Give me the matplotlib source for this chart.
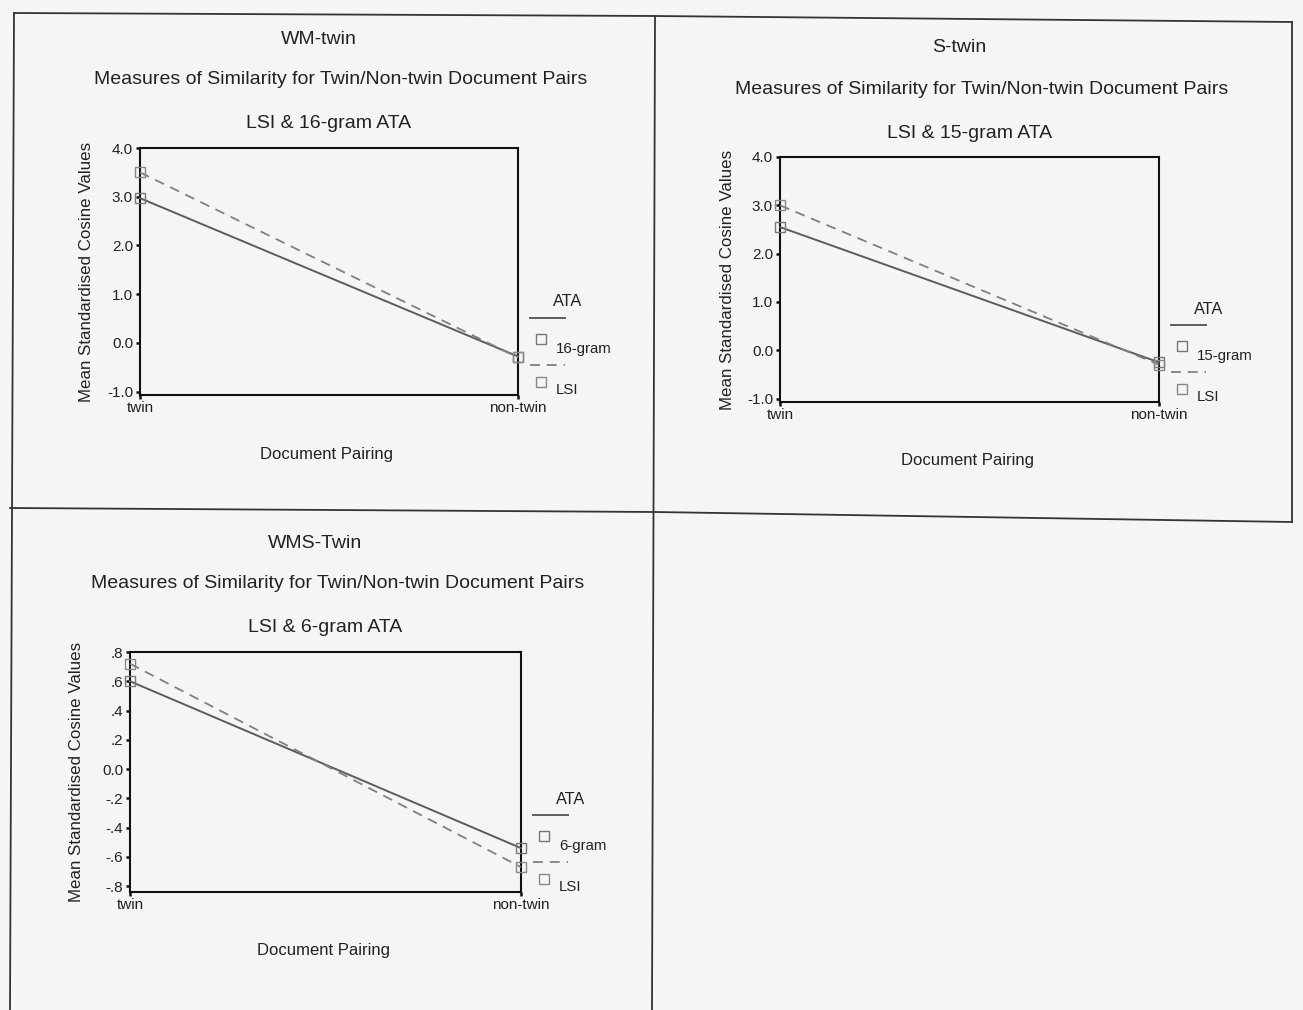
import matplotlib
matplotlib.use("Agg")
import matplotlib.pyplot as plt
from matplotlib.lines import Line2D

W, H = 1303, 1010
plt.rcParams['font.family'] = ['Liberation Sans', 'DejaVu Sans']

pairs = ["twin", "non-twin"]

# mean standardised cosine values
wm_ata = [2.97, -0.28]
wm_lsi = [3.50, -0.30]
s_ata = [2.55, -0.25]
s_lsi = [3.00, -0.30]
wms_ata = [0.60, -0.54]
wms_lsi = [0.72, -0.67]

big_ticks = [-1.0, 0.0, 1.0, 2.0, 3.0, 4.0]
big_labels = ["-1.0", "0.0", "1.0", "2.0", "3.0", "4.0"]
small_ticks = [-0.8, -0.6, -0.4, -0.2, 0.0, 0.2, 0.4, 0.6, 0.8]
small_labels = ["-.8", "-.6", "-.4", "-.2", "0.0", ".2", ".4", ".6", ".8"]

BG = "#f5f5f5"
TXT = "#222222"
ATA_C = "#5c5c5c"
LSI_C = "#808080"
DASH = (0, (5.5, 3.8))


def fx(x):
    return x / W


def fy(y):
    return 1 - y / H


def panel(fig, box, ata, lsi, ticks, labels, ylim, titles, gram):
    # box = left, top, right, bottom in pixels
    l, t, r, b = box
    ax = fig.add_axes([fx(l), fy(b), (r - l) / W, (b - t) / H])
    ax.set_facecolor("none")
    x = [0, 1]
    ax.plot(x, ata, color=ATA_C, lw=1.4, marker="s", ms=7, mfc="none",
            mec="#777777", mew=1.0, clip_on=False, zorder=3)
    ax.plot(x, lsi, color=LSI_C, lw=1.3, ls=DASH, marker="s", ms=7,
            mfc="none", mec="#888888", mew=1.0, clip_on=False, zorder=3)
    ax.set_xlim(0, 1)
    ax.set_ylim(*ylim)
    ax.set_yticks(ticks)
    ax.set_yticklabels(labels)
    ax.set_xticks(x)
    ax.set_xticklabels(pairs)
    ax.tick_params(axis="y", length=3, width=1.8, pad=2, labelsize=11,
                   labelcolor=TXT, color="#111111")
    ax.tick_params(axis="x", length=3, width=1.8, pad=1, labelsize=11,
                   labelcolor=TXT, color="#111111")
    for sp in ax.spines.values():
        sp.set_color("#111111")
        sp.set_linewidth(1.5)

    cx = (l + r) / 2
    fig.text(fx(cx - 10), fy(t - 109), titles[0], ha="center", va="center",
             fontsize=14, color=TXT)
    fig.text(fx(cx + 12), fy(t - 68), titles[1], ha="center", va="center",
             fontsize=14, color=TXT)
    fig.text(fx(cx), fy(t - 24), titles[2], ha="center", va="center",
             fontsize=14, color=TXT)
    fig.text(fx(cx - 2), fy(b + 59), "Document Pairing", ha="center",
             va="center", fontsize=12, color=TXT)
    fig.text(fx(l - 53), fy((t + b) / 2), "Mean Standardised Cosine Values",
             ha="center", va="center", rotation=90, fontsize=12.2, color=TXT)

    # SPSS style legend to the right of the plot box
    fig.text(fx(r + 50), fy(b - 93), "ATA", ha="center", va="center",
             fontsize=11.8, color=TXT)
    fig.add_artist(Line2D([fx(r + 12), fx(r + 47)], [fy(b - 77)] * 2,
                          color=ATA_C, lw=1.4))
    fig.add_artist(Line2D([fx(r + 23)], [fy(b - 56)], marker="s", ms=7,
                          mfc="none", mec="#777777", mew=1.0, ls="none"))
    fig.text(fx(r + 38), fy(b - 46), gram, ha="left", va="center",
             fontsize=10.8, color=TXT)
    fig.add_artist(Line2D([fx(r + 12), fx(r + 47)], [fy(b - 30)] * 2,
                          color=LSI_C, lw=1.3, ls=DASH))
    fig.add_artist(Line2D([fx(r + 23)], [fy(b - 13)], marker="s", ms=7,
                          mfc="none", mec="#888888", mew=1.0, ls="none"))
    fig.text(fx(r + 38), fy(b - 5), "LSI", ha="left", va="center",
             fontsize=10.8, color=TXT)
    return ax


fig = plt.figure(figsize=(W / 100, H / 100), dpi=100, facecolor=BG)

panel(fig, (140, 148, 518, 395), wm_ata, wm_lsi, big_ticks, big_labels,
      (-1.07, 4.0),
      ["WM-twin", "Measures of Similarity for Twin/Non-twin Document Pairs",
       "LSI & 16-gram ATA"], "16-gram")
panel(fig, (780, 157, 1159, 402), s_ata, s_lsi, big_ticks, big_labels,
      (-1.07, 4.0),
      ["S-twin", "Measures of Similarity for Twin/Non-twin Document Pairs",
       "LSI & 15-gram ATA"], "15-gram")
panel(fig, (130, 652, 521, 892), wms_ata, wms_lsi, small_ticks, small_labels,
      (-0.84, 0.8),
      ["WMS-Twin", "Measures of Similarity for Twin/Non-twin Document Pairs",
       "LSI & 6-gram ATA"], "6-gram")

# frame lines of the scanned page
frame = [
    ([14, 655, 1292], [13, 16, 22]),
    ([14, 10], [13, 1010]),
    ([655, 652], [16, 1010]),
    ([1292, 1292], [22, 522]),
    ([10, 655, 1292], [508, 512, 522]),
]
for xs, ys in frame:
    fig.add_artist(Line2D([fx(v) for v in xs], [fy(v) for v in ys],
                          color="#333333", lw=1.3))

fig.savefig("out.png", dpi=100, facecolor=BG)
